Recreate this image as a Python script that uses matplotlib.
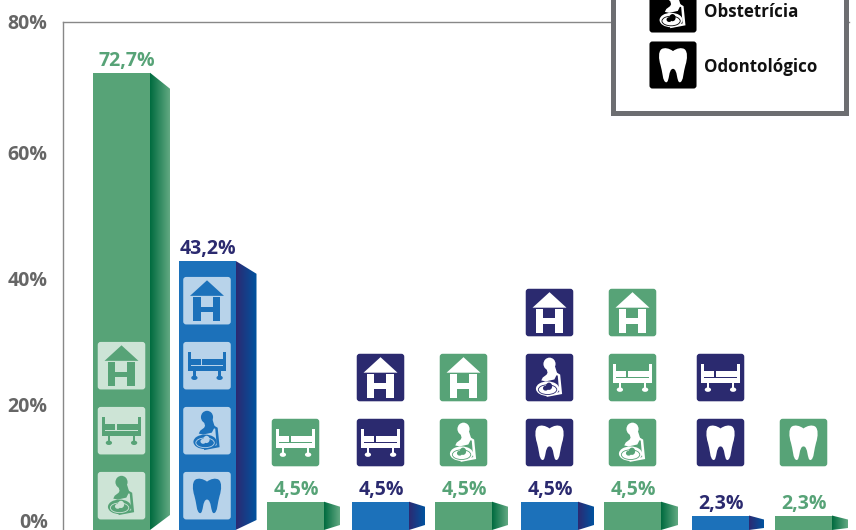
import numpy as np
import matplotlib
matplotlib.use('Agg')
import matplotlib.pyplot as plt
from matplotlib.patches import FancyBboxPatch, PathPatch, Polygon, Rectangle, Ellipse
from matplotlib.path import Path
from matplotlib.colors import LinearSegmentedColormap
from matplotlib.transforms import Affine2D, ScaledTranslation

plt.rcParams['font.family'] = ['Open Sans', 'DejaVu Sans']
plt.rcParams['font.weight'] = 'bold'

# data (heights, the second bar sits a bit under its label)
values = [72.7, 42.8, 4.5, 4.5, 4.5, 4.5, 4.5, 2.3, 2.3]
labels = ['72,7%', '43,2%', '4,5%', '4,5%', '4,5%', '4,5%', '4,5%', '2,3%', '2,3%']
groups = ['g', 'b', 'g', 'b', 'g', 'b', 'g', 'b', 'g']
icons = [['preg', 'bed', 'H'],
         ['tooth', 'preg', 'bed', 'H'],
         ['bed'],
         ['bed', 'H'],
         ['preg', 'H'],
         ['tooth', 'preg', 'H'],
         ['preg', 'bed', 'H'],
         ['tooth', 'bed'],
         ['tooth']]
yticks = [0, 20, 40, 60, 80]
ytick_labels = ['0%', '20%', '40%', '60%', '80%']
legend_names = ['Obstetrícia', 'Odontológico']

# style
GREEN, BLUE, NAVY = '#57a377', '#1c71ba', '#2b2a6f'
GREY = '#666666'
bar_col = {'g': GREEN, 'b': BLUE}
text_col = {'g': GREEN, 'b': NAVY}
tile_col = {'g': '#cde4d6', 'b': '#b8d3ea'}
free_col = {'g': GREEN, 'b': NAVY}
side_cmap = {'g': LinearSegmentedColormap.from_list('g', ['#006b3f', '#62a982']),
             'b': LinearSegmentedColormap.from_list('b', ['#2b2a72', '#00539f'])}

W, H = 856, 530
PX_X = 85.25   # pixels per category
PX_Y = 6.29    # pixels per percent
STEP = 65 / PX_Y
nudge = [0, 0.25, 3.5, 3.25, 1, 1.75, -0.5, 2.25, 0]
label_nudge = [4.5, 0, 0, 0, 0, 0, 0, 0, 0]
side_w = [20, 21, 16, 16, 16, 16, 17, 15, 16]
side_drop = [16, 13, 5, 5, 5, 5, 5, 4, 4]
side_rise = [15, 10, 5, 5, 5, 5, 5, 2, 2]


def rect(x0, y0, x1, y1):
    return Path([(x0, y0), (x1, y0), (x1, y1), (x0, y1), (x0, y0)], closed=True)


def tooth_path():
    verts = [(.5, .79),
             (.42, .85), (.32, .87), (.26, .83),
             (.19, .78), (.2, .62), (.24, .5),
             (.28, .38), (.28, .14), (.36, .14),
             (.43, .14), (.4, .42), (.5, .42),
             (.6, .42), (.57, .14), (.64, .14),
             (.72, .14), (.72, .38), (.76, .5),
             (.8, .62), (.81, .78), (.74, .83),
             (.68, .87), (.58, .85), (.5, .79)]
    codes = [Path.MOVETO] + [Path.CURVE4] * 24
    return Path(verts, codes)


def icon(add, tr, kind, bg, fg, z=3):
    add(FancyBboxPatch((.01, .01), .98, .98, boxstyle='round,pad=0,rounding_size=0.06',
                       fc=bg, ec='none', transform=tr, zorder=z))

    def fill(path, col=fg):
        add(PathPatch(path, fc=col, ec='none', transform=tr, zorder=z + 1))

    if kind == 'H':
        fill(Path([(.5, .92), (.15, .6), (.85, .6), (.5, .92)], closed=True))
        fill(rect(.22, .08, .37, .57))
        fill(rect(.62, .08, .77, .57))
        fill(rect(.37, .26, .62, .38))
    elif kind == 'bed':
        fill(rect(.10, .39, .16, .78))
        fill(rect(.84, .39, .90, .78))
        fill(rect(.10, .39, .90, .49))
        fill(rect(.17, .52, .37, .63))
        fill(rect(.40, .52, .83, .63))
        for lx in (.24, .76):
            fill(rect(lx - .025, .28, lx + .025, .40))
            add(Ellipse((lx, .25), .13, .09, fc=fg, ec='none', transform=tr, zorder=z + 1))
    elif kind == 'tooth':
        fill(tooth_path())
    else:
        # head and hair, then the belly with the foetus cut out of it
        add(Ellipse((.5, .78), .25, .26, fc=fg, ec='none', transform=tr, zorder=z + 1))
        fill(Path([(.42, .75), (.46, .6), (.44, .56), (.36, .5), (.33, .44), (.42, .42),
                   (.6, .46), (.66, .58), (.61, .74), (.42, .75)], closed=True))
        add(Ellipse((.46, .27), .48, .30, fc=fg, ec='none', transform=tr, zorder=z + 1))
        fill(Path([(.62, .62), (.72, .56), (.76, .16), (.44, .1), (.44, .14), (.7, .2),
                   (.67, .54), (.6, .56), (.62, .62)], closed=True))
        add(Ellipse((.46, .25), .38, .2, fc='none', ec=bg, lw=0.6, transform=tr, zorder=z + 2))
        add(Ellipse((.42, .28), .11, .10, fc=bg, ec='none', transform=tr, zorder=z + 3))
        add(Ellipse((.49, .32), .13, .15, fc=bg, ec='none', transform=tr, zorder=z + 3))


fig = plt.figure(figsize=(W / 100, H / 100), dpi=100)
ax = fig.add_axes([63 / W, 0, (849 - 63) / W, 507.8 / H])
x = np.arange(len(values)) + np.array(nudge) / PX_X
bar_w = 57 / PX_X

ax.bar(x, values, width=bar_w, color=[bar_col[g] for g in groups], zorder=2)

for i, v in enumerate(values):
    g = groups[i]
    r = x[i] + bar_w / 2
    dx = side_w[i] / PX_X
    poly = Polygon([(r, v), (r + dx, v - side_drop[i] / PX_Y),
                    (r + dx, side_rise[i] / PX_Y), (r, 0)],
                   closed=True, transform=ax.transData, fc='none', ec='none')
    ax.add_patch(poly)
    im = ax.imshow(np.linspace(0, 1, 64)[None, :], cmap=side_cmap[g], aspect='auto',
                   extent=(r, r + dx, 0, v), zorder=2)
    im.set_clip_path(poly)

    ax.annotate(labels[i], ((x[i]), v), xytext=((label_nudge[i] + 0.8) * 0.72, 4.8), textcoords='offset points',
                ha='center', va='baseline', color=text_col[g], fontsize=14)

    # icons stand inside the tall bars and above the label on the short ones
    tall = v > 20
    base = 1.6 if tall else 10.05
    for k, kind in enumerate(icons[i]):
        tr = Affine2D().scale(48.5).translate(-24.25, 0) + \
            ScaledTranslation(x[i], base + k * STEP, ax.transData)
        if tall:
            icon(ax.add_patch, tr, kind, tile_col[g], bar_col[g])
        else:
            icon(ax.add_patch, tr, kind, free_col[g], 'white')

ax.set_xlim((63 - 121.5) / PX_X, (849 - 121.5) / PX_X)
ax.set_ylim(0, 507.8 / PX_Y)
ax.set_xticks([])
ax.set_yticks(yticks)
ax.set_yticklabels(ytick_labels, fontsize=14, color=GREY)
ax.tick_params(axis='y', length=0, pad=11)
for lab, t in zip(ax.get_yticklabels(), yticks):
    if t == 80:
        lab.set_transform(lab.get_transform() + Affine2D().translate(0, 5))
    if t == 0:
        lab.set_transform(lab.get_transform() + Affine2D().translate(0, 9.5))
for s in ('bottom', 'right'):
    ax.spines[s].set_visible(False)
for s in ('left', 'top'):
    ax.spines[s].set_color('#888888')
    ax.spines[s].set_linewidth(1)

# legend box runs off the top of the picture
fig.add_artist(Rectangle((613, 417.5), 233, 130, fc='white', ec='#6d6e71', lw=3.6,
                         transform=None, zorder=5))
for kind, name, top, ty in [('preg', legend_names[0], 33, 12), ('tooth', legend_names[1], 89, 67)]:
    tr = Affine2D().scale(48).translate(649, H - top)
    icon(fig.add_artist, tr, kind, 'black', 'white', z=6)
    fig.text(704 / W, 1 - ty / H, name, fontsize=12.2, color='#111111', va='center',
             ha='left', zorder=10)

fig.savefig('out.png', dpi=100)
